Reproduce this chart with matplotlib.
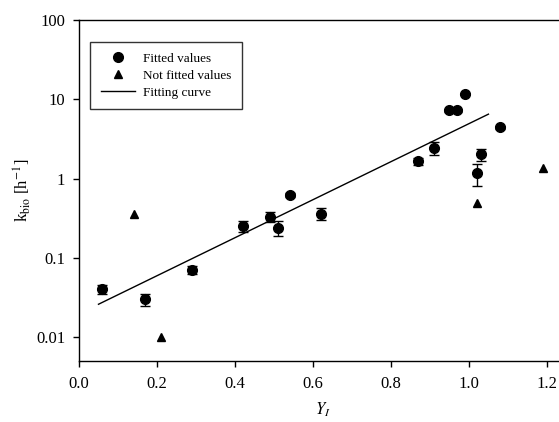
import numpy as np
import matplotlib.pyplot as plt
from matplotlib.lines import Line2D

plt.rcParams['font.family'] = ['Liberation Serif', 'DejaVu Serif']
plt.rcParams['mathtext.fontset'] = 'stix'

# fitted values (circles)
fit_x = [0.06, 0.17, 0.29, 0.42, 0.49, 0.51, 0.54, 0.62, 0.87, 0.91,
         0.95, 0.97, 0.99, 1.02, 1.03, 1.08]
fit_y = [0.040, 0.030, 0.070, 0.25, 0.33, 0.24, 0.62, 0.36, 1.66, 2.42,
         7.3, 7.3, 11.6, 1.17, 2.03, 4.45]
fit_err = [0.005, 0.005, 0.008, 0.04, 0.05, 0.05, 0.03, 0.06, 0.16, 0.45,
           0.3, 0.3, 0.4, 0.37, 0.34, 0.2]

# not fitted values (triangles)
nf_x = [0.14, 0.21, 1.02, 1.19]
nf_y = [0.36, 0.010, 0.49, 1.35]

# fitting curve (straight in log-y)
curve_x = [0.05, 1.05]
curve_y = [0.026, 6.5]

fig = plt.figure(figsize=(5.59, 4.22), dpi=100)
ax = fig.add_axes([0.1413, 0.1445, 0.872, 0.808])

ax.errorbar(fit_x, fit_y, yerr=fit_err, fmt='o', color='black', ms=7,
            capsize=3.6, elinewidth=1, capthick=1)
ax.plot(nf_x, nf_y, '^', color='black', ms=6)
ax.plot(curve_x, curve_y, '-', color='black', lw=1)

ax.set_yscale('log')
ax.set_ylim(0.005, 100)
ax.set_xlim(0, 1.25)
ax.set_yticks([0.01, 0.1, 1, 10, 100])
ax.set_yticklabels(['0.01', '0.1', '1', '10', '100'])
ax.yaxis.set_minor_locator(plt.NullLocator())
ax.set_xticks([0.0, 0.2, 0.4, 0.6, 0.8, 1.0, 1.2])
ax.set_xticklabels(['0.0', '0.2', '0.4', '0.6', '0.8', '1.0', '1.2'])
ax.tick_params(direction='out', length=4, width=1, labelsize=12, colors='black')
ax.tick_params(axis='x', pad=7)
ax.tick_params(axis='y', pad=6)
ax.spines['right'].set_visible(False)
for s in ['left', 'bottom', 'top']:
    ax.spines[s].set_linewidth(1)

ax.set_xlabel(r'$Y_{I}$', fontsize=12, labelpad=6)
ax.set_ylabel(r'k$_{\mathrm{bio}}$ [h$^{\mathrm{-1}}$]', fontsize=12, labelpad=2)

handles = [
    Line2D([], [], ls='none', marker='o', color='black', ms=7),
    Line2D([], [], ls='none', marker='^', color='black', ms=6),
    Line2D([], [], ls='-', color='black', lw=1),
]
labels = ['Fitted values', 'Not fitted values', 'Fitting curve']
leg = ax.legend(handles, labels, loc='upper left', bbox_to_anchor=(0.0226, 0.9355),
                borderaxespad=0,
                fontsize=9.5, frameon=True, fancybox=False, edgecolor='black',
                borderpad=0.8, handlelength=2.6, labelspacing=0.35, handletextpad=0.6)
leg.get_frame().set_linewidth(1)

fig.savefig('out.png', dpi=100)
